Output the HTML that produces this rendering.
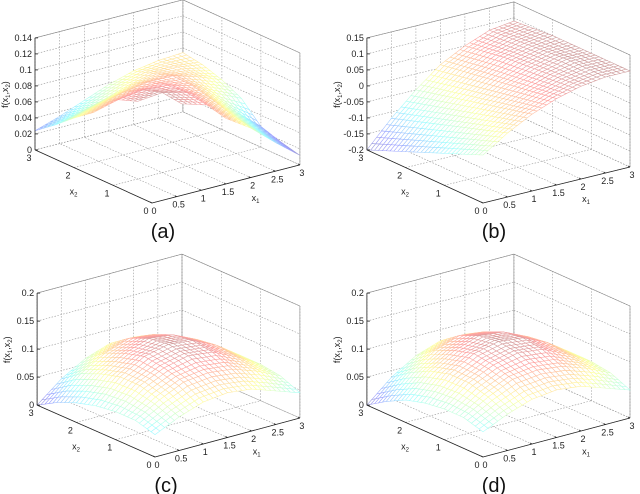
<!DOCTYPE html>
<html><head><meta charset="utf-8">
<style>
html,body{margin:0;padding:0;background:#fff;}
svg{display:block;}
text{font-family:"Liberation Sans",sans-serif;}
</style></head>
<body>
<svg id="fig" width="640" height="494" viewBox="0 0 640 494"></svg>
<script>
// grid coordinates (x1 along columns, x2 along rows), step 0.5
const gridX1 = [0,0.5,1,1.5,2,2.5,3];
const gridX2 = [0,0.5,1,1.5,2,2.5,3];
// surface values: rows = x2, columns = x1 (null = outside domain)
const surfA = [
 [null,null,null,.082,.062,.036,.012],
 [null,null,.097,.088,.068,.043,.018],
 [null,.097,.100,.092,.076,.052,.026],
 [.080,.088,.092,.090,.082,.064,.050],
 [.062,.070,.078,.083,.083,.074,.062],
 [.042,.050,.058,.068,.075,.075,.070],
 [.024,.034,.046,.058,.067,.072,.074]];
const surfB = [
 [-.050,.000,.040,.070,.090,.100,.100],
 [-.075,-.020,.025,.060,.085,.100,.100],
 [-.100,-.040,.010,.050,.080,.100,.100],
 [-.125,-.060,-.005,.040,.075,.095,.100],
 [-.150,-.080,-.020,.030,.070,.090,.100],
 [-.175,-.100,-.035,.020,.060,.085,.095],
 [-.200,-.120,-.050,.010,.050,.080,.090]];
const surfC = [
 [.040,.060,.075,.080,.075,.060,.045],
 [.050,.075,.095,.100,.095,.080,.060],
 [.050,.085,.105,.115,.110,.090,.065],
 [.045,.085,.110,.120,.115,.095,.065],
 [.035,.075,.100,.115,.110,.090,.060],
 [.020,.060,.085,.100,.095,.080,.050],
 [.000,.035,.060,.075,.075,.060,.040]];
const surfD = [
 [.045,.065,.080,.085,.080,.065,.050],
 [.055,.080,.100,.105,.100,.085,.065],
 [.055,.090,.110,.120,.115,.095,.070],
 [.050,.090,.115,.125,.120,.100,.070],
 [.040,.080,.105,.120,.115,.095,.065],
 [.022,.062,.090,.105,.100,.085,.055],
 [.000,.038,.065,.080,.080,.065,.045]];
const x1Ticks = ["0","0.5","1","1.5","2","2.5","3"];
const x2Ticks = ["0","1","2","3"];
const zTicksA = ["0","0.02","0.04","0.06","0.08","0.1","0.12","0.14"];
const zTicksB = ["-0.2","-0.15","-0.1","-0.05","0","0.05","0.1","0.15"];
const zTicksCD = ["0","0.05","0.1","0.15","0.2"];

const NS="http://www.w3.org/2000/svg";
const svg=document.getElementById('fig');
function mk(tag,attrs,parent){const e=document.createElementNS(NS,tag);for(const k in attrs)e.setAttribute(k,attrs[k]);(parent||svg).appendChild(e);return e;}

function jet(t){t=Math.max(0,Math.min(1,t));
 const r=Math.max(0,Math.min(1,1.5-Math.abs(4*t-3))),g=Math.max(0,Math.min(1,1.5-Math.abs(4*t-2))),b=Math.max(0,Math.min(1,1.5-Math.abs(4*t-1)));
 const m=0.62;return `rgb(${Math.round(255*(r*(1-m)+m))},${Math.round(255*(g*(1-m)+m))},${Math.round(255*(b*(1-m)+m))})`;}

function cellVal(vals,cu,cv,u,v){
 const a=vals[cv][cu],b=vals[cv][cu+1],c=vals[cv+1][cu],d=vals[cv+1][cu+1];
 if(a===null||b===null||c===null||d===null)return null;
 const fu=u-cu,fv=v-cv;
 return a*(1-fu)*(1-fv)+b*fu*(1-fv)+c*(1-fu)*fv+d*fu*fv;}

function panel(name,P,vals,zTicks,caption){
 const g=mk('g',{});
 
 
 const zmin=parseFloat(zTicks[0]),zmax=parseFloat(zTicks[zTicks.length-1]);
 const pr=(x1,x2,z)=>[P.ox+P.ex[0]*x1+P.ey[0]*x2, P.oy+P.ex[1]*x1+P.ey[1]*x2-(z-zmin)/(zmax-zmin)*P.H];
 const grid={stroke:'#999','stroke-width':0.6,'stroke-dasharray':'1.5,1.5',fill:'none'};
 const line=(a,b,at)=>mk('line',Object.assign({x1:a[0],y1:a[1],x2:b[0],y2:b[1]},at),g);
 for(const t of x1Ticks){const x=parseFloat(t);line(pr(x,0,zmin),pr(x,3,zmin),grid);line(pr(x,3,zmin),pr(x,3,zmax),grid);}
 for(const t of x2Ticks){const y=parseFloat(t);line(pr(0,y,zmin),pr(3,y,zmin),grid);line(pr(3,y,zmin),pr(3,y,zmax),grid);}
 for(const t of zTicks){const z=parseFloat(t);line(pr(0,3,z),pr(3,3,z),grid);line(pr(3,3,z),pr(3,0,z),grid);}
 const box={stroke:'#888','stroke-width':0.6};
 line(pr(0,3,zmax),pr(3,3,zmax),box);line(pr(3,3,zmax),pr(3,0,zmax),box);line(pr(3,0,zmin),pr(3,0,zmax),box);line(pr(3,3,zmin),pr(3,3,zmax),box);
 const N=30,sg=mk('g',{},g);
 
 
 const n=vals.length-1,quads=[];
 let vmin=Infinity,vmax=-Infinity;vals.forEach(r=>r.forEach(v=>{if(v!==null){vmin=Math.min(vmin,v);vmax=Math.max(vmax,v);}}));
 for(let j=0;j<N;j++)for(let i=0;i<N;i++)quads.push([i,j]);
 quads.sort((a,b)=>(b[0]+b[1])-(a[0]+a[1]));
 for(const [i,j] of quads){
  const ci=(i+0.5)*n/N,cj=(j+0.5)*n/N;
  const cu=Math.min(n-1,Math.floor(ci)),cv=Math.min(n-1,Math.floor(cj));
  if(cellVal(vals,cu,cv,ci,cj)===null)continue;
  const pts=[[i,j],[i+1,j],[i+1,j+1],[i,j+1]].map(([a,b])=>{
    const z=cellVal(vals,cu,cv,a*n/N,b*n/N);
    return {p:pr(a*3/N,b*3/N,z),z};});
  const zc=pts.reduce((s,q)=>s+q.z,0)/4;
  mk('polygon',{points:pts.map(q=>q.p.join(',')).join(' '),fill:'#fff',stroke:jet((zc-vmin)/(vmax-vmin)),'stroke-width':0.55},sg);
 }
 const ax={stroke:'#222','stroke-width':0.8};
 line(pr(0,0,zmin),pr(3,0,zmin),ax);line(pr(0,3,zmin),pr(0,0,zmin),ax);line(pr(0,3,zmin),pr(0,3,zmax),ax);
 const tx=(x,y,s,at)=>{const e=mk('text',Object.assign({x,y,'font-size':9,fill:'#222'},at||{}),g);e.textContent=s;return e;};
 for(const t of x1Ticks){const p=pr(parseFloat(t),0,zmin);line(p,[p[0]-2,p[1]-1],ax);tx(p[0]+2,p[1]+11,t,{'text-anchor':'middle'});}
 for(const t of x2Ticks){const p=pr(0,parseFloat(t),zmin);tx(p[0]-6,p[1]+11,t,{'text-anchor':'middle'});}
 for(const t of zTicks){const p=pr(0,3,parseFloat(t));line(p,[p[0]+3,p[1]],ax);tx(p[0]-3,p[1]+3,t,{'text-anchor':'end'});}
 const l1=pr(1.9,0,zmin),l2=pr(0,1.6,zmin),lz=pr(0,3,(zmin+zmax)/2);
 const a1=tx(l1[0]+6,l1[1]+22,'x');mk('tspan',{'font-size':6,dy:2},a1).textContent='1';
 const a2=tx(l2[0]-20,l2[1]+20,'x');mk('tspan',{'font-size':6,dy:2},a2).textContent='2';
 const az=tx(0,0,'f(x',{transform:`translate(${lz[0]-27},${lz[1]+14}) rotate(-90)`});
 mk('tspan',{'font-size':6,dy:2},az).textContent='1';mk('tspan',{dy:-2},az).textContent=',x';mk('tspan',{'font-size':6,dy:2},az).textContent='2';mk('tspan',{dy:-2},az).textContent=')';
 const c=mk('text',{x:P.ox+11,y:P.oy+35,'font-size':20,'text-anchor':'middle',fill:'#111','font-family':'Liberation Serif, serif'},g);
 
 
 c.textContent=caption;
}
panel('panel-a',{ox:152,oy:203,ex:[49.3,-12.7],ey:[-39,-17.7],H:112},surfA,zTicksA,'(a)');
panel('panel-b',{ox:483,oy:203,ex:[49,-12],ey:[-38.7,-17.7],H:112},surfB,zTicksB,'(b)');
panel('panel-c',{ox:155,oy:457,ex:[48.3,-13],ey:[-39.3,-17.3],H:112},surfC,zTicksCD,'(c)');
panel('panel-d',{ox:483,oy:457,ex:[49,-13],ey:[-38.7,-17.3],H:112},surfD,zTicksCD,'(d)');
</script>
</body></html>
